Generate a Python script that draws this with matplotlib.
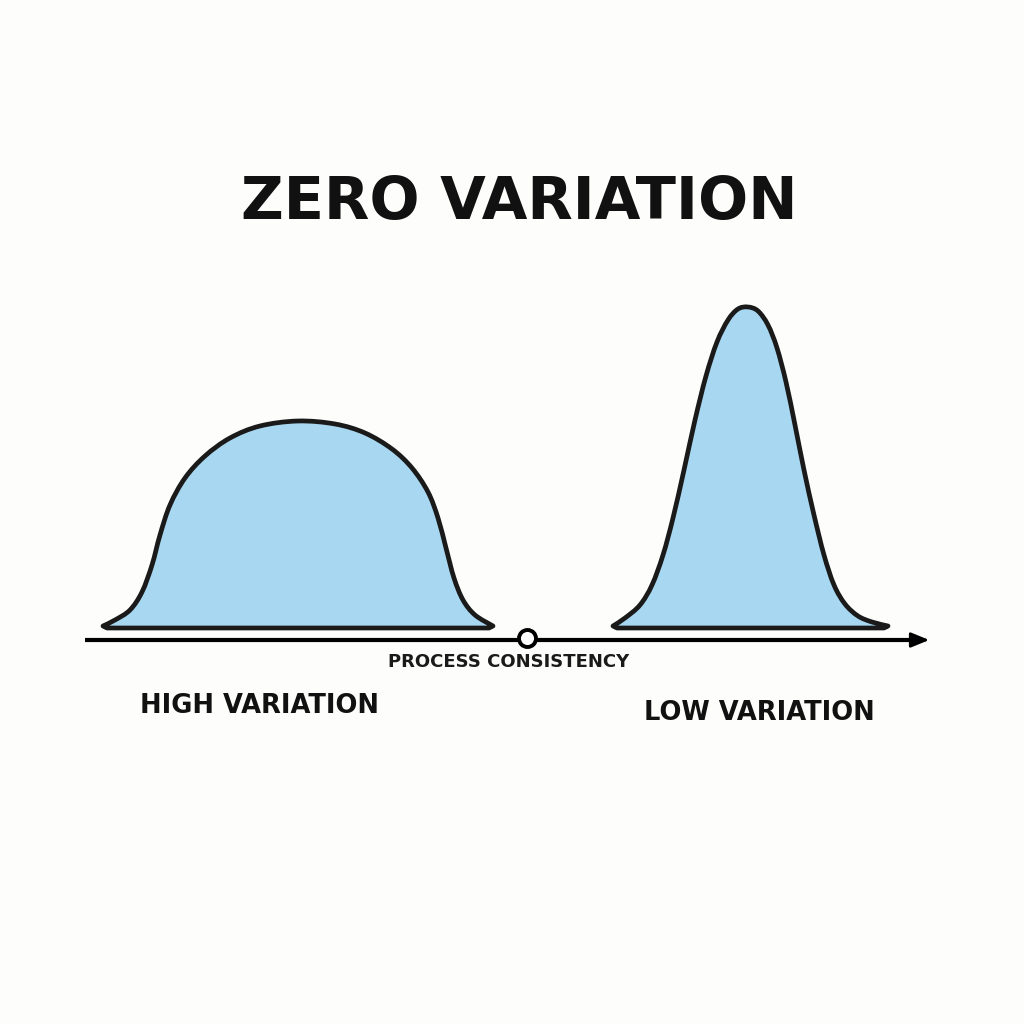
import matplotlib.pyplot as plt
from matplotlib.path import Path
from matplotlib.patches import PathPatch

# curve outlines (pixel coords, y grows downward)
high_x = [103, 115, 130, 142, 152, 160, 170, 185, 205, 230, 260, 298, 335, 365, 392, 412, 428, 438, 446, 454, 463, 475, 493]
high_y = [626, 620, 610, 592, 565, 535, 505, 478, 456, 438, 426, 421, 424, 433, 449, 468, 492, 518, 548, 578, 600, 615, 626]

low_x = [613, 625, 640, 652, 663, 673, 684, 695, 706, 717, 728, 738, 748, 758, 768, 777, 786, 795, 804, 814, 824, 834, 845, 858, 872, 888]
low_y = [626, 618, 605, 585, 555, 518, 470, 420, 376, 342, 320, 309, 307, 311, 325, 348, 382, 425, 470, 515, 555, 585, 604, 616, 622, 626]
base_y = 628

axis_x = [85, 915]
axis_y = 640
marker_x = 527

title = "ZERO VARIATION"
axis_label = "PROCESS CONSISTENCY"
left_label = "HIGH VARIATION"
right_label = "LOW VARIATION"


# smooth outline through the read points (catmull-rom -> bezier)
def smooth_path(xs, ys):
    pts = list(zip(xs, ys))
    verts = [pts[0]]
    codes = [Path.MOVETO]
    for i in range(len(pts) - 1):
        p0 = pts[i - 1] if i > 0 else pts[i]
        p1 = pts[i]
        p2 = pts[i + 1]
        p3 = pts[i + 2] if i + 2 < len(pts) else pts[i + 1]
        c1 = (p1[0] + (p2[0] - p0[0]) / 6, p1[1] + (p2[1] - p0[1]) / 6)
        c2 = (p2[0] - (p3[0] - p1[0]) / 6, p2[1] - (p3[1] - p1[1]) / 6)
        verts += [c1, c2, p2]
        codes += [Path.CURVE4] * 3
    # bottom edge back to start
    verts += [(xs[-1] - 4, base_y), (xs[0] + 4, base_y), pts[0], pts[0]]
    codes += [Path.LINETO, Path.LINETO, Path.LINETO, Path.CLOSEPOLY]
    return Path(verts, codes)


fig = plt.figure(figsize=(10.24, 10.24), dpi=100, facecolor="#fdfdfb")
ax = fig.add_axes([0, 0, 1, 1])
ax.set_xlim(0, 1024)
ax.set_ylim(1024, 0)
ax.axis("off")

fill = "#a8d8f1"
for xs, ys in [(high_x, high_y), (low_x, low_y)]:
    patch = PathPatch(smooth_path(xs, ys), facecolor=fill, edgecolor="#1a1a1a",
                      linewidth=3.4, joinstyle="round", zorder=2)
    ax.add_patch(patch)

# axis with arrow
ax.plot(axis_x, [axis_y, axis_y], color="black", lw=3, zorder=3, solid_capstyle="butt")
ax.annotate("", xy=(932, axis_y), xytext=(axis_x[1] - 2, axis_y),
            arrowprops=dict(arrowstyle="-|>,head_length=1.1,head_width=0.45",
                            color="black", lw=2), zorder=3)
ax.scatter([marker_x], [axis_y - 2], s=150, facecolor="white", edgecolor="black",
           linewidth=2.8, zorder=4)

fam = ["DejaVu Sans"]
ax.text(519, 203, title, ha="center", va="center", fontsize=42.5, fontweight="bold",
        family=fam, color="#111111")
ax.text(509, 662, axis_label, ha="center", va="center", fontsize=13,
        fontweight="bold", family=fam, color="#1a1a1a")
ax.text(260, 706, left_label, ha="center", va="center", fontsize=18.5,
        fontweight="bold", family=fam, color="#111111")
ax.text(759, 713, right_label, ha="center", va="center", fontsize=18.5,
        fontweight="bold", family=fam, color="#111111")

fig.savefig("out.png", dpi=100, facecolor=fig.get_facecolor())
